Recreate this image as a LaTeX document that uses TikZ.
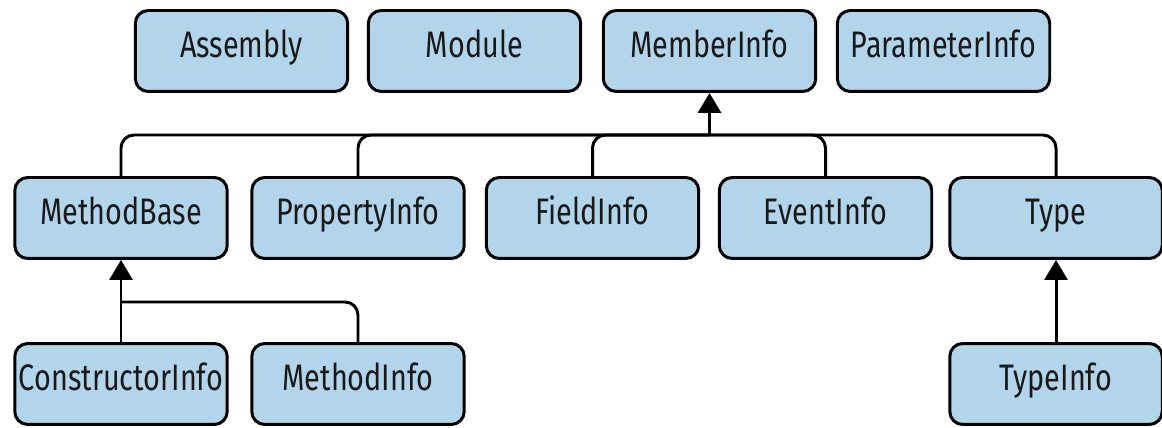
\documentclass[tikz,border=0pt]{standalone}
\usepackage{fontspec}
\setmainfont[FakeStretch=0.78]{Fira Sans}
\usepackage{xcolor}
\usetikzlibrary{positioning, arrows.meta}
\definecolor{boxblue}{RGB}{178,213,235}
\tikzset{
	cls/.style={draw, line width=1.7pt, rounded corners=0.26cm, fill=boxblue,
		minimum width=4.25cm, minimum height=1.62cm, inner sep=0pt,
		text height=0.69em, text depth=0pt,
		text=black!90, font=\fontsize{21}{24}\selectfont},
	link/.style={line width=1.7pt, rounded corners=0.26cm}
}

\begin{document}
\begin{tikzpicture} [x=0.02cm, y=-0.02cm, > = {Triangle[length=0.4cm, width=0.46cm]}]
			\useasboundingbox (0,0) rectangle (1162,428);
			
			\node[cls] (assembly)   at (241.5,51) {Assembly};
			\node[cls] (module)     at (474.5,51) {Module};
			\node[cls] (memberinfo) at (709.5,51) {MemberInfo};
			\node[cls] (paraminfo)  at (943.5,51) {ParameterInfo};
			
			\node[cls] (methodbase) at (121,218)  {MethodBase};
			\node[cls] (propinfo)   at (358,218)  {PropertyInfo};
			\node[cls] (fieldinfo)  at (592.5,218) {FieldInfo};
			\node[cls] (eventinfo)  at (825.5,218) {EventInfo};
			\node[cls] (type)       at (1056,218) {Type};
			
			\node[cls] (ctorinfo)   at (121,384)  {ConstructorInfo};
			\node[cls] (methodinfo) at (358,384)  {MethodInfo};
			\node[cls] (typeinfo)   at (1056,384) {TypeInfo};
			
			\coordinate (memberhub) at (memberinfo.south |- 0,135);
			\coordinate (methodhub) at (methodbase.south |- 0,302);
			
			\draw [link] (methodbase.north) |- (memberhub);
			\draw [link] (propinfo.north) |- (memberhub);
			\draw [link] (fieldinfo.north) |- (memberhub);
			\draw [link] (eventinfo.north) |- (memberhub);
			\draw [link] (type.north) |- (memberhub);
			\draw [link, ->] (memberhub) -- (memberinfo.south);
			
			\draw [link] (methodinfo.north) |- (methodhub);
			\draw [link, ->] (ctorinfo.north) -- (methodbase.south);
			
			\draw [link, ->] (typeinfo.north) -- (type.south);
		\end{tikzpicture}
\end{document}
